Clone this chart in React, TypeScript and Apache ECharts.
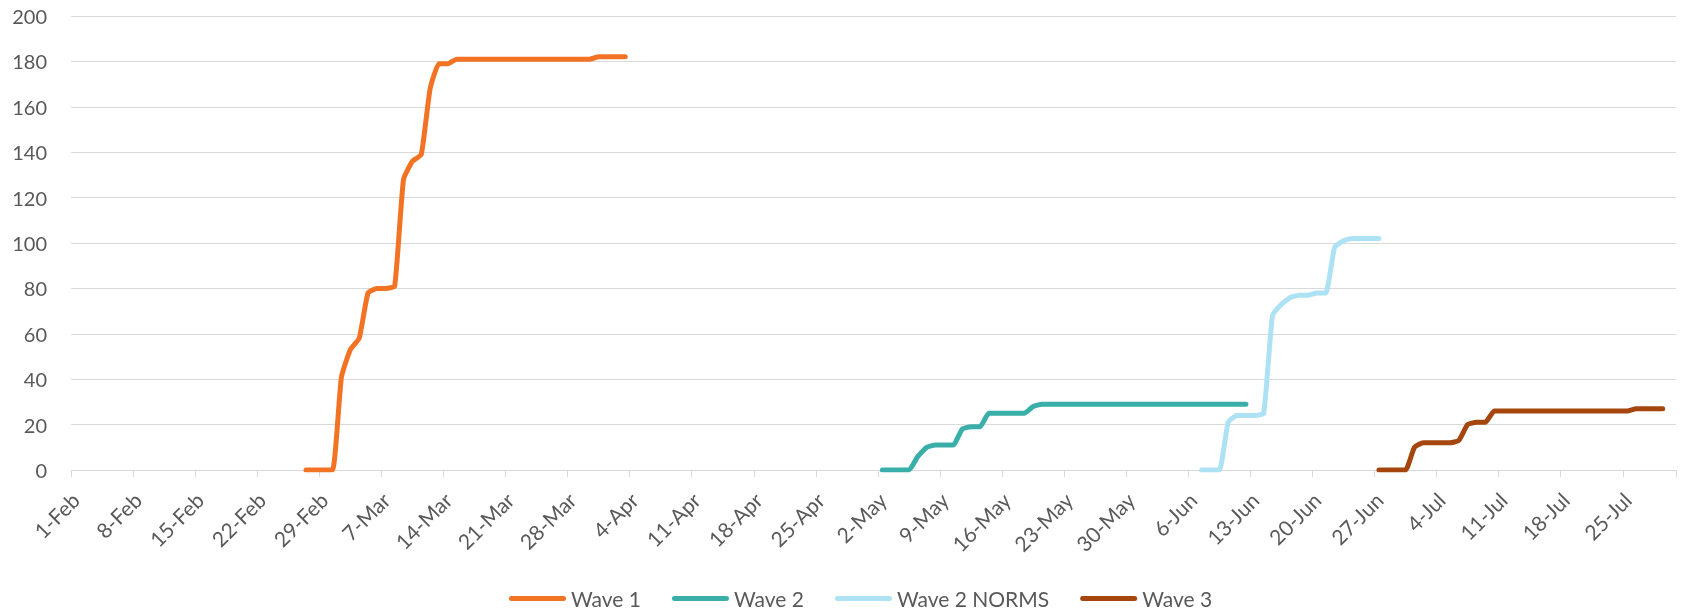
import React, { useEffect, useRef } from 'react';
import * as echarts from 'echarts';

// ---- categories: one per day, 1-Feb-2020 .. 30-Jul-2020 ----
const MONTHS = ['Jan', 'Feb', 'Mar', 'Apr', 'May', 'Jun', 'Jul', 'Aug'];
const DAY_COUNT = 181;
const categories: string[] = [];
for (let i = 0; i < DAY_COUNT; i++) {
  const d = new Date(Date.UTC(2020, 1, 1 + i));
  categories.push(`${d.getUTCDate()}-${MONTHS[d.getUTCMonth()]}`);
}
const TICK_STEP = 7; // a tick label every 7 days

// ---- series values (daily, starting at the given date) ----
const wave1Start = '27-Feb';
const wave1 = [
  0, 0, 0, 0, 41, 53, 58, 78, 80, 80, 81, 128, 136, 139, 168, 179, 179,
  181, 181, 181, 181, 181, 181, 181, 181, 181, 181, 181, 181, 181, 181, 181, 181,
  182, 182, 182, 182,
];

const wave2Start = '2-May';
const wave2 = [
  0, 0, 0, 0, 6, 10, 11, 11, 11, 18, 19, 19, 25, 25, 25, 25, 25, 28,
  29, 29, 29, 29, 29, 29, 29, 29, 29, 29, 29, 29,
  29, 29, 29, 29, 29, 29, 29, 29, 29, 29, 29, 29,
];

const wave2NormsStart = '7-Jun';
const wave2Norms = [
  0, 0, 0, 21, 24, 24, 24, 25, 68, 73, 76, 77, 77, 78, 78, 98, 101, 102, 102, 102, 102,
];

const wave3Start = '27-Jun';
const wave3 = [
  0, 0, 0, 0, 10, 12, 12, 12, 12, 13, 20, 21, 21,
  26, 26, 26, 26, 26, 26, 26, 26, 26, 26, 26, 26, 26, 26, 26, 26,
  27, 27, 27, 27,
];

const seriesNames = ['Wave 1', 'Wave 2', 'Wave 2 NORMS', 'Wave 3'];
const seriesColors = ['#F37324', '#3AAFA9', '#ADE2F4', '#A5460F'];

function pad(start: string, values: number[]): (number | null)[] {
  const s = categories.indexOf(start);
  const out: (number | null)[] = new Array(DAY_COUNT).fill(null);
  values.forEach((v, i) => {
    if (s + i < DAY_COUNT) out[s + i] = v;
  });
  return out;
}

const TEXT = '#595959';
const GRID = '#D9D9D9';
const FONT = 'Lato';
const LEGEND_ICON = 'path://M2.5,0 L54.5,0 A2.5,2.5 0 0 1 54.5,5 L2.5,5 A2.5,2.5 0 0 1 2.5,0 Z';

export default function App() {
  const ref = useRef<HTMLDivElement>(null);
  useEffect(() => {
    if (!ref.current) return;
    const chart = echarts.init(ref.current, undefined, { renderer: 'svg' });
    const data = [
      pad(wave1Start, wave1),
      pad(wave2Start, wave2),
      pad(wave2NormsStart, wave2Norms),
      pad(wave3Start, wave3),
    ];
    chart.setOption({
      animation: false,
      textStyle: { fontFamily: FONT },
      grid: { left: 71, right: 6, top: 16, bottom: 140, containLabel: false },
      legend: {
        data: seriesNames.map((name) => ({ name, icon: LEGEND_ICON })),
        left: 509,
        top: 588,
        padding: 0,
        itemWidth: 57,
        itemHeight: 5,
        itemGap: 31,
        textStyle: { color: TEXT, fontSize: 21, lineHeight: 18, fontFamily: FONT },
      },
      xAxis: {
        type: 'category',
        data: categories,
        boundaryGap: true,
        axisLine: { lineStyle: { color: GRID, width: 1 } },
        axisTick: {
          show: true,
          alignWithLabel: false,
          interval: (i: number) => i % TICK_STEP === 0,
          length: 7,
          lineStyle: { color: GRID, width: 1 },
        },
        axisLabel: {
          interval: (i: number) => i % TICK_STEP === 0,
          rotate: 45,
          margin: 26,
          color: TEXT,
          fontSize: 21,
          fontFamily: FONT,
        },
        splitLine: { show: false },
      },
      yAxis: {
        type: 'value',
        min: 0,
        max: 200,
        interval: 20,
        axisLine: { show: false },
        axisTick: { show: false },
        axisLabel: { margin: 24, color: TEXT, fontSize: 20, fontFamily: FONT },
        splitLine: { lineStyle: { color: GRID, width: 1 } },
      },
      series: seriesNames.map((name, k) => ({
        name,
        type: 'line',
        data: data[k],
        symbol: 'none',
        smooth: 0.15,
        connectNulls: false,
        color: seriesColors[k],
        itemStyle: { color: seriesColors[k] },
        lineStyle: { color: seriesColors[k], width: 5, cap: 'round', join: 'round' },
      })),
    });
    return () => chart.dispose();
  }, []);
  return (
    <div
      ref={ref}
      style={{ position: 'fixed', left: 0, top: 0, width: 1682, height: 610 }}
    />
  );
}
